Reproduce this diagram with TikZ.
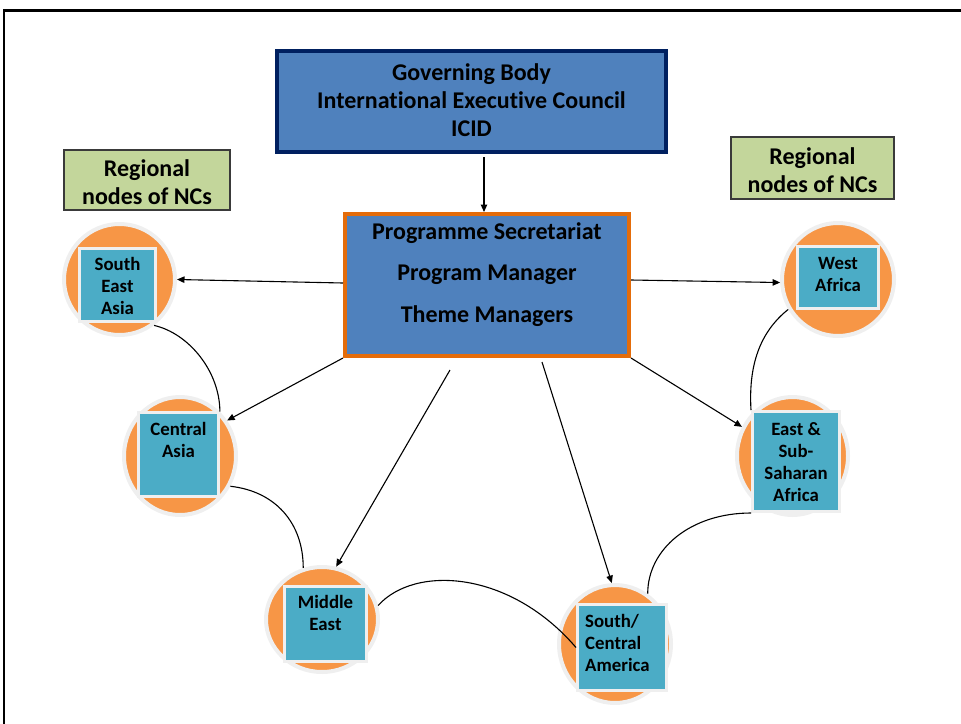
\documentclass[tikz,border=0pt]{standalone}
\usepackage{fontspec}
\setmainfont{Carlito}[Ligatures=NoCommon]
\usetikzlibrary{arrows.meta,calc,shapes.geometric}
\definecolor{boxblue}{HTML}{4F81BD}
\definecolor{navy}{HTML}{002060}
\definecolor{psorange}{HTML}{E46C0A}
\definecolor{regreen}{HTML}{C3D69B}
\definecolor{regborder}{HTML}{3A3A3A}
\definecolor{circorange}{HTML}{F79646}
\definecolor{sqteal}{HTML}{4BACC6}
\definecolor{lightrim}{HTML}{EFEFEF}
\begin{document}
\begin{tikzpicture}[x=1pt,y=-1pt,
  txt/.style={font=\bfseries\fontsize{24}{28}\selectfont, align=center, inner sep=0pt},
  regbox/.style={draw=regborder, line width=1.5pt, fill=regreen, inner sep=0pt},
  regtxt/.style={font=\bfseries\fontsize{24}{28}\selectfont, align=center, inner sep=0pt},
  disc/.style={ellipse, draw=lightrim, line width=4pt, fill=circorange, inner sep=0pt},
  sq/.style={rectangle, draw=lightrim, line width=3pt, fill=sqteal, inner sep=0pt},
  sqtxt/.style={font=\bfseries\fontsize{18.8}{22}\selectfont, align=center, inner sep=0pt},
  arr/.style={line width=1.1pt, -{Triangle[length=7.5pt,width=6.5pt]}},
  link/.style={line width=1.1pt}
]
\useasboundingbox (0,0) rectangle (961,723);
\clip (0,0) rectangle (961,723);
\draw[line width=2.5pt] (4,10.5) rectangle (1000,800);

% governing body
\node[draw=navy, line width=4pt, fill=boxblue, minimum width=389pt, minimum height=101pt, inner sep=0pt] (gb) at (471.5,101.5) {};
\node[txt] (gbT) at (471.5,100) {Governing Body\\International Executive Council\\ICID};

% programme secretariat
\node[draw=psorange, line width=4pt, fill=boxblue, minimum width=284pt, minimum height=142pt, inner sep=0pt] (ps) at (487,285) {};
\node[txt, font=\bfseries\fontsize{24}{41.5}\selectfont] (psT) at (487,274.5) {Programme Secretariat\\Program Manager\\Theme Managers};

% regional labels
\node[regbox, minimum width=166pt, minimum height=60pt] (regL) at (147,180) {};
\node[regtxt] (regLT) at (147,182) {Regional\\nodes of NCs};
\node[regbox, minimum width=163pt, minimum height=62pt] (regR) at (812.5,168) {};
\node[regtxt] (regRT) at (812.5,170) {Regional\\nodes of NCs};

% regional discs
\node[disc, minimum width=111pt, minimum height=111pt] (seaC) at (119.5,279.5) {};
\node[disc, minimum width=112pt, minimum height=113pt] (waC) at (838,279.5) {};
\node[disc, minimum width=112pt, minimum height=118pt] (caC) at (180,456) {};
\node[disc, minimum width=111pt, minimum height=118pt] (esaC) at (792.5,456) {};
\node[disc, minimum width=112pt, minimum height=105pt] (meC) at (322,619.5) {};
\node[disc, minimum width=112pt, minimum height=118pt] (scaC) at (615,644) {};

% squares
\node[sq, minimum width=76pt, minimum height=73pt] (seaS) at (117.5,285) {};
\node[sq, minimum width=81pt, minimum height=62pt] (waS) at (838,277.5) {};
\node[sq, minimum width=80pt, minimum height=84pt] (caS) at (178.5,454.5) {};
\node[sq, minimum width=87pt, minimum height=100pt] (esaS) at (796,461.5) {};
\node[sq, minimum width=82pt, minimum height=75pt] (meS) at (325.5,624) {};
\node[sq, minimum width=89pt, minimum height=86pt] (scaS) at (622,647.5) {};

\node[sqtxt] (seaT) at (117.5,286) {South\\East\\Asia};
\node[sqtxt] (waT) at (838,274) {West\\Africa};
\node[sqtxt] (caT) at (178.5,440) {Central\\Asia};
\node[sqtxt] (esaT) at (796,462) {East \&\\Sub-\\Saharan\\Africa};
\node[sqtxt] (meT) at (325.5,612.5) {Middle\\East};
\node[sqtxt, align=left, anchor=west] (scaT) at (585,643) {South/\\Central\\America};

% arrows
\draw[arr] ([xshift=12.5pt,yshift=-3pt]gb.south) -- ([xshift=-3pt]ps.north);
\draw[arr] ([yshift=2pt]ps.west) -- (seaC.east);
\draw[arr] ([yshift=5pt]ps.east) -- (waC.183);
\draw[arr] (ps.south west) -- (caC.37);
\draw[arr] (ps.south east) -- (esaC.150);
\draw[arr] ([xshift=-37pt,yshift=-12pt]ps.south) -- (meC.75);
\draw[arr] ([xshift=55pt,yshift=-4pt]ps.south) -- (scaC.93);

% ring links
\draw[link] (seaC.-53) .. controls +(35,8) and +(0,-40) .. (caC.48);
\draw[link] (caC.-31) .. controls +(45,5) and +(0,-45) .. (meC.110);
\draw[link] (meC.14) .. controls +(37,-41) and +(-66,-77) .. (scaS.west);
\draw[link] (scaC.57) .. controls +(0,-45) and +(-60,0) .. (esaS.south west);
\draw[link] (esaS.north west) .. controls +(-3,-50) and +(-25,20) .. (waC.211);
\end{tikzpicture}
\end{document}
